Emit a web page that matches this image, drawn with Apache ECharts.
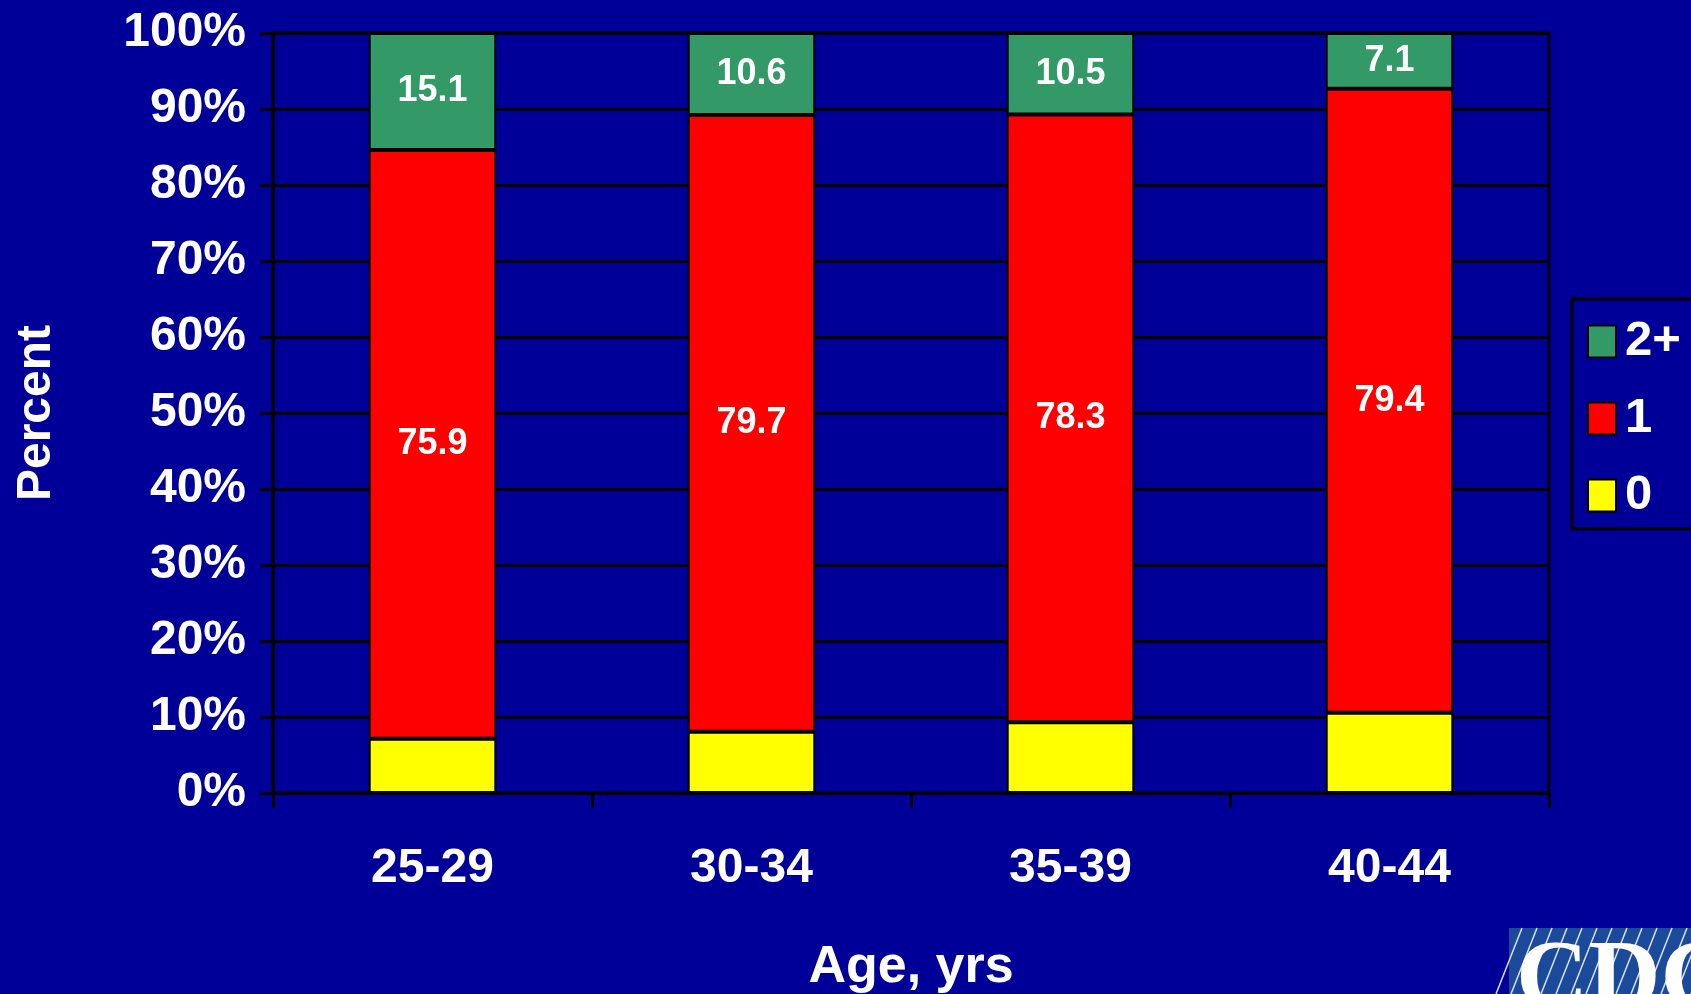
<!DOCTYPE html>
<html>
<head>
<meta charset="utf-8">
<title>Percent by age group</title>
<script src="https://cdn.jsdelivr.net/npm/echarts@6/dist/echarts.min.js"></script>
<style>
  html, body { margin: 0; padding: 0; background: #000099; }
  #chart { width: 1691px; height: 994px; }
</style>
</head>
<body>
<div id="chart"></div>
<script>
// Age groups on the x axis
const ageGroups = ['25-29', '30-34', '35-39', '40-44'];

// Raw values per group; each bar is scaled to 100%
const zero = [7.0, 7.9, 9.1, 10.2];
const one = [75.9, 79.7, 78.3, 79.4];
const twoPlus = [15.1, 10.6, 10.5, 7.1];

const yTicks = [0, 10, 20, 30, 40, 50, 60, 70, 80, 90, 100];

const SANS = "'Liberation Sans', Arial, sans-serif";

const totals = ageGroups.map((_, i) => zero[i] + one[i] + twoPlus[i]);
const share = arr => arr.map((v, i) => v / totals[i] * 100);

function makeSeries(name, raw, color, showLabel) {
  return {
    name: name,
    type: 'bar',
    stack: 'total',
    barWidth: '40%',
    data: share(raw),
    itemStyle: { color: color, borderColor: '#000000', borderWidth: 2 },
    label: {
      show: showLabel,
      position: 'inside',
      color: '#ffffff',
      fontFamily: SANS,
      fontWeight: 'bold',
      fontSize: 36,
      padding: [6, 0, 0, 0],
      formatter: p => raw[p.dataIndex].toFixed(1)
    },
    emphasis: { disabled: true }
  };
}

// Stripes of the logo badge in the bottom-right corner
const logoLines = [];
for (let k = 0; k < 14; k++) {
  const xTop = 1522 + k * 15;
  logoLines.push({
    type: 'line',
    shape: { x1: xTop, y1: 928, x2: xTop - 26, y2: 994 },
    style: { stroke: '#d8e2f2', lineWidth: 1.5 },
    z: 101
  });
}

const chart = echarts.init(document.getElementById('chart'), null, { renderer: 'canvas' });

chart.setOption({
  backgroundColor: '#000099',
  animation: false,
  grid: {
    left: 273, right: 142, top: 33, bottom: 201,
    outerBoundsMode: 'none',
    containLabel: false,
    show: true,
    borderColor: '#000000',
    borderWidth: 3,
    backgroundColor: 'transparent'
  },
  legend: {
    orient: 'vertical',
    left: 1572,
    top: 299,
    data: ['2+', '1', '0'],
    icon: 'rect',
    itemWidth: 28,
    itemHeight: 32,
    itemGap: 28,
    padding: [18, 40, 9, 15],
    borderColor: '#000000',
    borderWidth: 3,
    selectedMode: false,
    textStyle: {
      color: '#ffffff',
      fontFamily: SANS,
      fontWeight: 'bold',
      fontSize: 49,
      padding: [0, 0, 0, 4]
    }
  },
  xAxis: {
    type: 'category',
    data: ageGroups,
    name: 'Age, yrs',
    nameLocation: 'middle',
    nameGap: 149,
    nameTextStyle: {
      color: '#ffffff',
      fontFamily: SANS,
      fontWeight: 'bold',
      fontSize: 52
    },
    axisLine: { lineStyle: { color: '#000000', width: 3 } },
    axisTick: { show: true, length: 15, lineStyle: { color: '#000000', width: 3 } },
    axisLabel: {
      color: '#ffffff',
      fontFamily: SANS,
      fontWeight: 'bold',
      fontSize: 48,
      margin: 52
    }
  },
  yAxis: {
    type: 'value',
    min: 0,
    max: 100,
    interval: 10,
    name: 'Percent',
    nameLocation: 'middle',
    nameRotate: 90,
    nameGap: 212,
    nameTextStyle: {
      color: '#ffffff',
      fontFamily: SANS,
      fontWeight: 'bold',
      fontSize: 48
    },
    axisLine: { show: true, lineStyle: { color: '#000000', width: 3 } },
    axisTick: { show: true, length: 13, lineStyle: { color: '#000000', width: 3 } },
    splitLine: { show: true, lineStyle: { color: '#000000', width: 3 } },
    axisLabel: {
      color: '#ffffff',
      fontFamily: SANS,
      fontWeight: 'bold',
      fontSize: 48,
      margin: 27,
      padding: [4, 0, 0, 0],
      formatter: v => (yTicks.indexOf(v) >= 0 ? v + '%' : '')
    }
  },
  series: [
    makeSeries('0', zero, '#FFFF00', false),
    makeSeries('1', one, '#FF0000', true),
    makeSeries('2+', twoPlus, '#339966', true)
  ],
  graphic: [
    {
      type: 'rect',
      shape: { x: 1509, y: 928, width: 200, height: 80 },
      style: { fill: '#1b4a9b' },
      z: 100
    },
    ...logoLines,
    {
      type: 'text',
      x: 1516,
      y: 932,
      style: {
        text: 'CDC',
        fill: '#ffffff',
        fontFamily: "'Liberation Serif', 'DejaVu Serif', serif",
        fontWeight: 'bold',
        fontSize: 100,
        verticalAlign: 'top'
      },
      z: 102
    }
  ]
});
</script>
</body>
</html>
